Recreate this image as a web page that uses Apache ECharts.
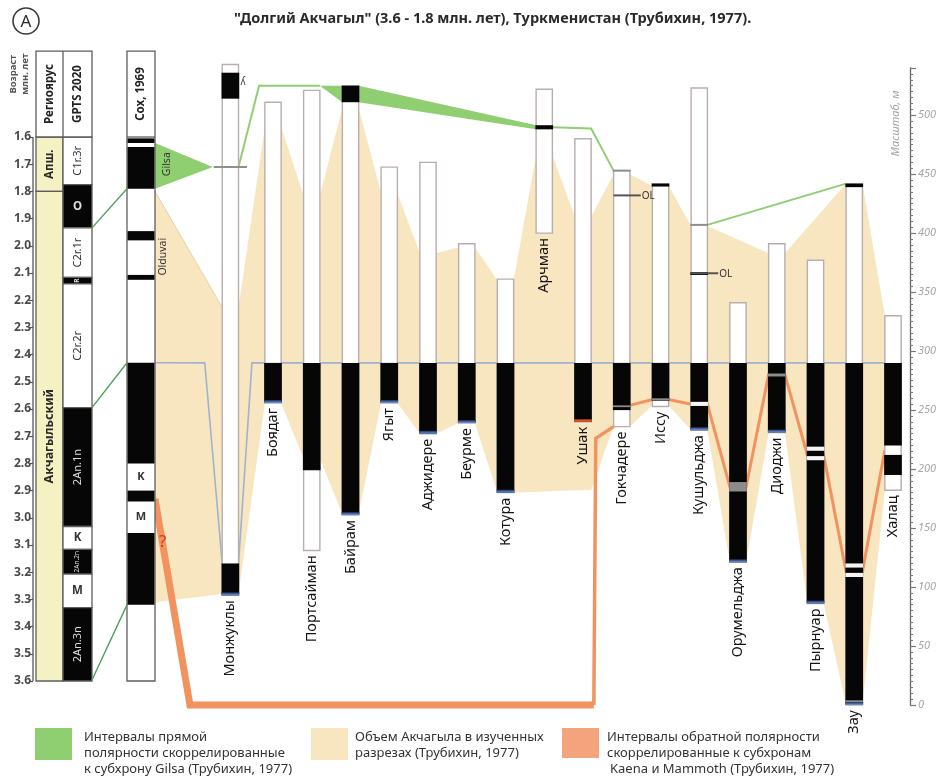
<!DOCTYPE html>
<html>
<head>
<meta charset="utf-8">
<title>Долгий Акчагыл</title>
<script src="https://cdn.jsdelivr.net/npm/echarts@6.0.0/dist/echarts.min.js"></script>
<style>
html,body{margin:0;padding:0;background:#ffffff;}
#chart{width:945px;height:781px;}
</style>
</head>
<body>
<div id="chart"></div>
<script>
// ---------- Sections: thickness scale in metres ----------
const sections = ['Монжуклы','Боядаг','Портсайман','Байрам','Ягыт','Аджидере','Беурме','Котура','Арчман',
  'Ушак','Гокчадере','Иссу','Кушульджа','Орумельджа','Диоджи','Пырнуар','Зау','Халац'];
const sectionTop  = [543,511,521,525,456,460,391,361,522,480,453,442,523,341,391,377,442,330];
const sectionBase = [93,256,131,161,256,230,239,180,400,240,236,253,233,121,231,86,0,182];

// normal polarity intervals: [section, top m, bottom m]
const blackIntervals = [
  [0,536,514],[0,120,93],[1,290,256],[2,290,199],[3,525,511],[3,290,161],[4,290,256],
  [5,290,230],[6,290,239],[7,290,180],[8,491.5,488],[9,290,240],[10,290,250],
  [11,442,439.5],[11,290,258],[12,367,364.5],[12,290,233],[13,290,121],[14,290,231],
  [15,290,86],[16,442,439],[16,290,0],[17,290,220],[17,212,195]
];
const lightStripes = [[12,257,253.5],[15,219,215.5],[15,211,207.5],[16,120,116.5],[16,112,108.5]];
const grayStripes  = [[10,254,252.5],[11,260,258.5],[13,189,181],[14,281,278.5],[16,4,0]];
const markerLevels = [[0,456],[10,453],[12,407]];
const olLevels     = [[10,432],[12,366]];
const markedBases  = [0,1,3,4,5,6,7,12,13,14,15,16];
const reversedBases = [9];

// Akchagyl volume (Трубихин, 1977): upper / lower limit at each section, m
// (null where the limit passes behind a shorter column)
const akchagylTop  = [337,490,432,506,434,383,388,360,466,414,450,440,406,null,383,null,442,330];
const akchagylBase = [94,256,209,162,256,230,239,180,null,182,236,254,233,121,231,86,0,182];
const akchagylCoxAges = [1.8, 3.31];

// base horizon of the normal-polarity lower unit
const horizonLevel = 290;
const horizonMonzh = 120;
const horizonCoxAge = 2.43;

// Gilsa correlation
const gilsaCoxAges = [1.622, 1.79];
const gilsaMonzh = 456;
const gilsaBairam = [525, 511];
const gilsaArchman = [491.5, 488];
const gilsaGokcha = 453;
const gilsaKushul = 407;
const gilsaZau = 442;

// Kaena / Mammoth correlation
const kaenaCoxAge = 2.93;
const reversalLevel = [null,null,null,null,null,null,null,null,null,null,254,259,255,185,280,212,113,216];

// ---------- Reference columns: ages, Ma ----------
const ageTicks = [1.6,1.7,1.8,1.9,2.0,2.1,2.2,2.3,2.4,2.5,2.6,2.7,2.8,2.9,3.0,3.1,3.2,3.3,3.4,3.5,3.6];
const meterLabels = [0,50,100,150,200,250,300,350,400,450,500];
const regioNames = ['Апш.','Акчагыльский'];
const regioFrom  = [1.6, 1.8];
const regioTo    = [1.8, 3.6];
const gptsNames  = ['C1r.3r','O','C2r.1r','R','C2r.2r','2An.1n','K','2An.2n','M','2An.3n'];
const gptsFrom   = [1.6,1.775,1.934,2.116,2.14,2.595,3.032,3.116,3.207,3.33];
const gptsTo     = [1.775,1.934,2.116,2.14,2.595,3.032,3.116,3.207,3.33,3.6];
const gptsNormal = [0,1,0,1,0,1,0,1,0,1];
const coxBlack   = [[1.605,1.622],[1.637,1.79],[1.946,1.98],[2.107,2.125],[2.43,2.80],[2.90,2.94],[3.056,3.32]];
const coxNames   = ['K','M'];
const coxNamed   = [[2.80,2.90],[2.94,3.056]];
const gptsCoxTies = [[1.934,1.79],[2.595,2.43],[3.596,3.32]];

// ---------- Layout ----------
const X_MIN = -5.1935, X_MAX = 17.4387;
const AGE_MIN = 1.3463, AGE_MAX = 3.6882;
const M_MAX = 540;
const HALF = 0.21;
const REG = [-5.116, -4.419], GPTS = [-4.419, -3.671], COX = [-2.768, -2.045];
const HEADER_AGE = 1.284;
const slotOf = i => (i === 0 ? -0.1 : i);
const L = i => slotOf(i) - HALF;
const R = i => slotOf(i) + HALF;
const gap = (a, b, f) => a + (b - a) * f;

const FONT = '"Noto Sans", "DejaVu Sans", sans-serif';
const YELLOW = '#f8e6c1';
const REGIO_YELLOW = '#f4f2c2';
const GREEN = '#8fcf72';
const ORANGE = '#f2925f';
const COL_STROKE = '#b8afad';
const PANEL_STROKE = '#5e5e5e';

const chart = echarts.init(document.getElementById('chart'), null, {renderer: 'canvas'});

const M = (s, m) => chart.convertToPixel({xAxisIndex: 0, yAxisIndex: 1}, [s, m]);
const AG = (s, a) => chart.convertToPixel({xAxisIndex: 0, yAxisIndex: 0}, [s, a]);

function rectFrom(p0, p1, style) {
  const x = Math.min(p0[0], p1[0]), y = Math.min(p0[1], p1[1]);
  return {type: 'rect', shape: {x, y, width: Math.abs(p1[0] - p0[0]), height: Math.max(Math.abs(p1[1] - p0[1]), 1)}, style};
}
function txt(x, y, str, o) {
  o = o || {};
  return {type: 'text', x, y, rotation: o.rot || 0,
    style: {text: str, fill: o.fill || '#222', fontFamily: o.family || FONT, fontSize: o.size || 12,
      fontWeight: o.weight || 'normal', fontStyle: o.style || 'normal',
      align: o.align || 'center', verticalAlign: o.va || 'middle'}};
}
function poly(points, style) { return {type: 'polygon', shape: {points}, style}; }
function pline(points, stroke, w) {
  return {type: 'polyline', shape: {points}, style: {stroke, lineWidth: w, fill: null, lineJoin: 'miter'}};
}

// ---------- layers ----------
function buildAkchagyl() {
  const pts = [AG(COX[1], akchagylCoxAges[0])];
  for (let i = 0; i < sections.length; i++) {
    if (akchagylTop[i] == null) continue;
    pts.push(M(L(i), akchagylTop[i]), M(R(i), akchagylTop[i]));
  }
  for (let i = sections.length - 1; i >= 0; i--) {
    if (akchagylBase[i] == null) continue;
    pts.push(M(R(i), akchagylBase[i]), M(L(i), akchagylBase[i]));
  }
  pts.push(AG(COX[1], akchagylCoxAges[1]));
  return [
    poly(pts, {fill: YELLOW}),
    pline([AG(COX[1], akchagylCoxAges[0]), M(L(0), akchagylTop[0])], '#e6d2a8', 1)
  ];
}

function buildHorizon() {
  return [pline([
    AG(COX[1], horizonCoxAge),
    M(gap(COX[1], L(0), 0.74), horizonLevel),
    M(L(0), horizonMonzh), M(R(0), horizonMonzh),
    M(gap(R(0), L(1), 0.51), horizonLevel),
    M(R(sections.length - 1), horizonLevel)
  ], '#9fb3cf', 1.6)];
}

function buildGilsa() {
  const ch = [];
  ch.push(poly([AG(COX[1], gilsaCoxAges[0]), M(gap(COX[1], L(0), 0.86), gilsaMonzh), AG(COX[1], gilsaCoxAges[1])], {fill: GREEN}));
  ch.push(pline([M(R(0), gilsaMonzh), M(gap(R(0), L(1), 0.78), gilsaBairam[0]), M(R(2), gilsaBairam[0])], GREEN, 2));
  ch.push(poly([M(R(2), gilsaBairam[0]), M(L(3), gilsaBairam[0]), M(L(3), gilsaBairam[1])], {fill: GREEN}));
  ch.push(poly([M(R(3), gilsaBairam[0]), M(L(8), gilsaArchman[0]), M(L(8), gilsaArchman[1]), M(R(3), gilsaBairam[1])], {fill: GREEN}));
  const archMid = (gilsaArchman[0] + gilsaArchman[1]) / 2;
  ch.push(pline([M(R(8), archMid), M(R(9), archMid - 1), M(L(10), gilsaGokcha)], GREEN, 2));
  ch.push(pline([M(R(12), gilsaKushul), M(L(16), gilsaZau)], GREEN, 2));
  return ch;
}

function buildReversals() {
  const ch = [];
  const corner = gap(R(9), L(10), 0.12);
  ch.push(pline([AG(COX[1], kaenaCoxAge), M(gap(COX[1], L(0), 0.52), 0), M(corner, 0)], ORANGE, 7));
  ch.push(pline([M(corner, 0), M(corner + 0.05, 226), M(L(10), sectionBase[10])], ORANGE, 3.5));
  const pts = [];
  for (let i = 0; i < sections.length; i++) {
    if (reversalLevel[i] == null) continue;
    if (pts.length) pts.push(M(L(i), reversalLevel[i]));
    if (i < sections.length - 1) pts.push(M(R(i), reversalLevel[i]));
  }
  ch.push(pline(pts, ORANGE, 3));
  return ch;
}

function buildQuery() {
  const q = AG(COX[1] + 0.2, 3.09);
  return [txt(q[0], q[1], '?', {size: 17, fill: '#e0361c'})];
}

function buildColumns() {
  const ch = [];
  const band = (i, t, b, fill) => {
    const p0 = M(L(i), t), p1 = M(R(i), b);
    return rectFrom([p0[0] - 0.7, p0[1]], [p1[0] + 0.7, p1[1]], {fill});
  };
  sections.forEach((name, i) => {
    ch.push(rectFrom(M(L(i), sectionTop[i]), M(R(i), sectionBase[i]), {fill: '#ffffff', stroke: COL_STROKE, lineWidth: 1.4}));
  });
  blackIntervals.forEach(([i, t, b]) => ch.push(band(i, t, b, '#060606')));
  lightStripes.forEach(([i, t, b]) => ch.push(band(i, t, b, '#f4f4f4')));
  grayStripes.forEach(([i, t, b]) => ch.push(band(i, t, b, '#8c8c8c')));
  markedBases.forEach(i => {
    const p0 = M(L(i), sectionBase[i]);
    const p1 = M(R(i), sectionBase[i]);
    ch.push({type: 'rect', shape: {x: p0[0] - 0.7, y: p0[1] - 3, width: p1[0] - p0[0] + 1.4, height: 3},
      style: {fill: new echarts.graphic.LinearGradient(0, 0, 0, 1, [{offset: 0, color: '#1d2e58'}, {offset: 1, color: '#6f9be6'}])}});
  });
  reversedBases.forEach(i => {
    const p0 = M(L(i), sectionBase[i]), p1 = M(R(i), sectionBase[i]);
    ch.push({type: 'rect', shape: {x: p0[0] - 0.7, y: p0[1] - 2.5, width: p1[0] - p0[0] + 1.4, height: 2.5}, style: {fill: '#e2552d'}});
  });
  markerLevels.forEach(([i, m], k) => {
    const ext = k === 0 ? 0.22 : 0.02;
    const a = M(L(i) - ext, m), b = M(R(i) + ext, m);
    ch.push({type: 'line', shape: {x1: a[0], y1: a[1], x2: b[0], y2: b[1]}, style: {stroke: '#8e8e8e', lineWidth: 2}});
  });
  olLevels.forEach(([i, m]) => {
    const a = M(L(i), m), b = M(R(i) + 0.28, m);
    ch.push({type: 'line', shape: {x1: a[0], y1: a[1], x2: b[0], y2: b[1]}, style: {stroke: '#555555', lineWidth: 2}});
    ch.push(txt(b[0] + 1, b[1] + 1, 'OL', {size: 10, align: 'left', fill: '#333'}));
  });
  const j = M(R(0) + 0.05, 528);
  ch.push(txt(j[0], j[1], 'ʎ', {size: 10, align: 'left', fill: '#444'}));
  sections.forEach((name, i) => {
    const p = M(slotOf(i), sectionBase[i]);
    ch.push(txt(p[0], p[1] + 5, name, {size: 14.5, rot: Math.PI / 2, align: 'right', fill: '#141414'}));
  });
  const n = M(X_MAX - 0.36, 493);
  ch.push(txt(n[0], n[1], 'Масштаб, м', {size: 11, rot: Math.PI / 2, fill: '#a3a3a3', style: 'italic'}));
  return ch;
}

function buildPanel() {
  const ch = [];
  const a0 = AG(X_MIN, ageTicks[0]), a1 = AG(X_MIN, ageTicks[ageTicks.length - 1]);
  ch.push({type: 'line', shape: {x1: a0[0], y1: a0[1], x2: a1[0], y2: a1[1]}, style: {stroke: '#555', lineWidth: 1.3}});
  // header label of the age scale
  const h = AG(X_MIN, 1.38);
  ch.push(txt(h[0] - 20, h[1] - 3, 'Возраст', {size: 9.5, rot: Math.PI / 2, weight: 'bold', fill: '#555'}));
  ch.push(txt(h[0] - 8, h[1] - 3, 'млн. лет', {size: 9.5, rot: Math.PI / 2, weight: 'bold', fill: '#555'}));

  // regional stages
  for (let k = 0; k < regioNames.length; k++) {
    ch.push(rectFrom(AG(REG[0], regioFrom[k]), AG(REG[1], regioTo[k]), {fill: REGIO_YELLOW, stroke: PANEL_STROKE, lineWidth: 1.3}));
    const c = AG((REG[0] + REG[1]) / 2, (regioFrom[k] + regioTo[k]) / 2);
    ch.push(txt(c[0], c[1], regioNames[k], {size: k === 0 ? 11.5 : 12.5, rot: Math.PI / 2, weight: 'bold', fill: '#2a2a2a'}));
  }
  // GPTS 2020
  for (let k = 0; k < gptsNames.length; k++) {
    const normal = gptsNormal[k] === 1;
    ch.push(rectFrom(AG(GPTS[0], gptsFrom[k]), AG(GPTS[1], gptsTo[k]), {fill: normal ? '#060606' : '#ffffff', stroke: PANEL_STROKE, lineWidth: 1.3}));
    const c = AG((GPTS[0] + GPTS[1]) / 2, (gptsFrom[k] + gptsTo[k]) / 2);
    const short = gptsNames[k].length === 1;
    const tiny = (gptsTo[k] - gptsFrom[k]) < 0.1 && !short || gptsNames[k] === 'R';
    ch.push(txt(c[0], c[1], gptsNames[k], {
      size: tiny ? 6.5 : (short ? 11.5 : 11), weight: short ? 'bold' : 'normal',
      rot: short && gptsNames[k] !== 'R' ? 0 : Math.PI / 2, fill: normal ? '#dddddd' : '#333'}));
  }
  // header box of the stage and GPTS columns
  ch.push(rectFrom(AG(REG[0], HEADER_AGE), AG(GPTS[1], ageTicks[0]), {fill: '#ffffff', stroke: PANEL_STROKE, lineWidth: 1.3}));
  const d0 = AG(REG[1], HEADER_AGE), d1 = AG(REG[1], ageTicks[0]);
  ch.push({type: 'line', shape: {x1: d0[0], y1: d0[1], x2: d1[0], y2: d1[1]}, style: {stroke: PANEL_STROKE, lineWidth: 1.3}});
  const hc = (HEADER_AGE + ageTicks[0]) / 2;
  let c = AG((REG[0] + REG[1]) / 2, hc);
  ch.push(txt(c[0], c[1], 'Региоярус', {size: 11.5, rot: Math.PI / 2, weight: 'bold', fill: '#222'}));
  c = AG((GPTS[0] + GPTS[1]) / 2, hc);
  ch.push(txt(c[0], c[1], 'GPTS 2020', {size: 11.5, rot: Math.PI / 2, weight: 'bold', fill: '#222'}));

  // Cox, 1969
  ch.push(rectFrom(AG(COX[0], HEADER_AGE), AG(COX[1], ageTicks[ageTicks.length - 1]), {fill: '#ffffff', stroke: PANEL_STROKE, lineWidth: 1.3}));
  const e0 = AG(COX[0], ageTicks[0]), e1 = AG(COX[1], ageTicks[0]);
  ch.push({type: 'line', shape: {x1: e0[0], y1: e0[1], x2: e1[0], y2: e1[1]}, style: {stroke: PANEL_STROKE, lineWidth: 1.3}});
  c = AG((COX[0] + COX[1]) / 2, hc);
  ch.push(txt(c[0], c[1], 'Cox, 1969', {size: 11.5, rot: Math.PI / 2, weight: 'bold', fill: '#222'}));
  coxBlack.forEach(([a, b]) => {
    const p0 = AG(COX[0], a), p1 = AG(COX[1], b);
    ch.push(rectFrom([p0[0] + 0.6, p0[1]], [p1[0] - 0.6, p1[1]], {fill: '#060606'}));
  });
  coxNames.forEach((nm, k) => {
    const p = AG((COX[0] + COX[1]) / 2, (coxNamed[k][0] + coxNamed[k][1]) / 2);
    ch.push(txt(p[0], p[1], nm, {size: 11, weight: 'bold', fill: '#333'}));
  });
  let g = AG(COX[1] + 0.31, 1.7);
  ch.push(txt(g[0], g[1], 'Gilsa', {size: 10.5, rot: Math.PI / 2, fill: '#333'}));
  g = AG(COX[1] + 0.2, 2.04);
  ch.push(txt(g[0], g[1], 'Olduvai', {size: 10.5, rot: Math.PI / 2, fill: '#333'}));
  // ties GPTS -> Cox
  gptsCoxTies.forEach(([a, b]) => {
    ch.push(pline([AG(GPTS[1], a), AG(COX[0], b)], '#4fa05a', 1.4));
  });
  return ch;
}

function layer(name, z, build) {
  return {
    type: 'custom', name, z, clip: false, silent: true, animation: false,
    coordinateSystem: 'cartesian2d', xAxisIndex: 0, yAxisIndex: 1,
    data: [[0, 270]],
    renderItem: () => ({type: 'group', children: build()})
  };
}

const legendText = (x, y, str) => ({type: 'text', x, y,
  style: {text: str, fontFamily: FONT, fontSize: 13, fill: '#333', verticalAlign: 'middle'}});

chart.setOption({
  backgroundColor: '#ffffff',
  animation: false,
  title: {
    text: '"Долгий Акчагыл" (3.6 - 1.8 млн. лет), Туркменистан (Трубихин, 1977).',
    left: 229, top: 6,
    textStyle: {fontFamily: FONT, fontSize: 14.5, fontWeight: 'bold', color: '#2a2a2a'}
  },
  grid: {left: 33, right: 35, top: 68, bottom: 76, containLabel: false},
  xAxis: {type: 'value', min: X_MIN, max: X_MAX, show: false, axisLine: {onZero: false}},
  yAxis: [
    {
      type: 'value', position: 'left', inverse: true, min: AGE_MIN, max: AGE_MAX,
      axisLine: {show: false, onZero: false}, splitLine: {show: false},
      axisTick: {show: true, customValues: ageTicks, length: 4, lineStyle: {color: '#555', width: 1.2}},
      axisLabel: {customValues: ageTicks, formatter: v => Number(v).toFixed(1), margin: 2,
        fontFamily: FONT, fontSize: 12, fontWeight: 'bold', color: '#4a4a4a'}
    },
    {
      type: 'value', position: 'right', min: 0, max: M_MAX, interval: 5,
      axisLine: {show: true, onZero: false, lineStyle: {color: '#666', width: 1.3}},
      splitLine: {show: false},
      axisTick: {show: true, length: 3, lineStyle: {color: '#777', width: 1}},
      axisLabel: {customValues: meterLabels, margin: 8, fontFamily: FONT, fontSize: 11,
        fontStyle: 'italic', color: '#a5a5a5'}
    },
    {
      type: 'value', position: 'right', min: 0, max: M_MAX, interval: 50,
      axisLine: {show: false, onZero: false}, splitLine: {show: false},
      axisTick: {show: true, length: 6, lineStyle: {color: '#777', width: 1.2}},
      axisLabel: {show: false}
    }
  ],
  graphic: [
    {type: 'circle', shape: {cx: 26, cy: 21, r: 13}, style: {fill: '#fff', stroke: '#3a3a3a', lineWidth: 1.6}},
    {type: 'text', x: 26, y: 22, style: {text: 'A', fontFamily: FONT, fontSize: 17, fill: '#2a2a2a', align: 'center', verticalAlign: 'middle'}},
    // legend
    {type: 'rect', shape: {x: 35, y: 728, width: 37, height: 32}, style: {fill: GREEN}},
    legendText(84, 737, 'Интервалы прямой'),
    legendText(84, 753, 'полярности скоррелированные'),
    legendText(84, 769, 'к субхрону Gilsa (Трубихин, 1977)'),
    {type: 'rect', shape: {x: 311, y: 728, width: 37, height: 32}, style: {fill: YELLOW}},
    legendText(355, 737, 'Объем Акчагыла в изученных'),
    legendText(355, 753, 'разрезах (Трубихин, 1977)'),
    {type: 'rect', shape: {x: 562, y: 728, width: 37, height: 30}, style: {fill: '#f4a47c'}},
    legendText(607, 737, 'Интервалы обратной полярности'),
    legendText(607, 753, 'скоррелированные к субхронам'),
    legendText(610, 769, 'Kaena и Mammoth (Трубихин, 1977)')
  ],
  series: [
    layer('akchagyl', 1, buildAkchagyl),
    layer('horizon', 2, buildHorizon),
    layer('gilsa', 3, buildGilsa),
    layer('kaena-mammoth', 3, buildReversals),
    layer('sections', 5, buildColumns),
    layer('reference', 5, buildPanel),
    layer('query', 6, buildQuery)
  ]
});
</script>
</body>
</html>
